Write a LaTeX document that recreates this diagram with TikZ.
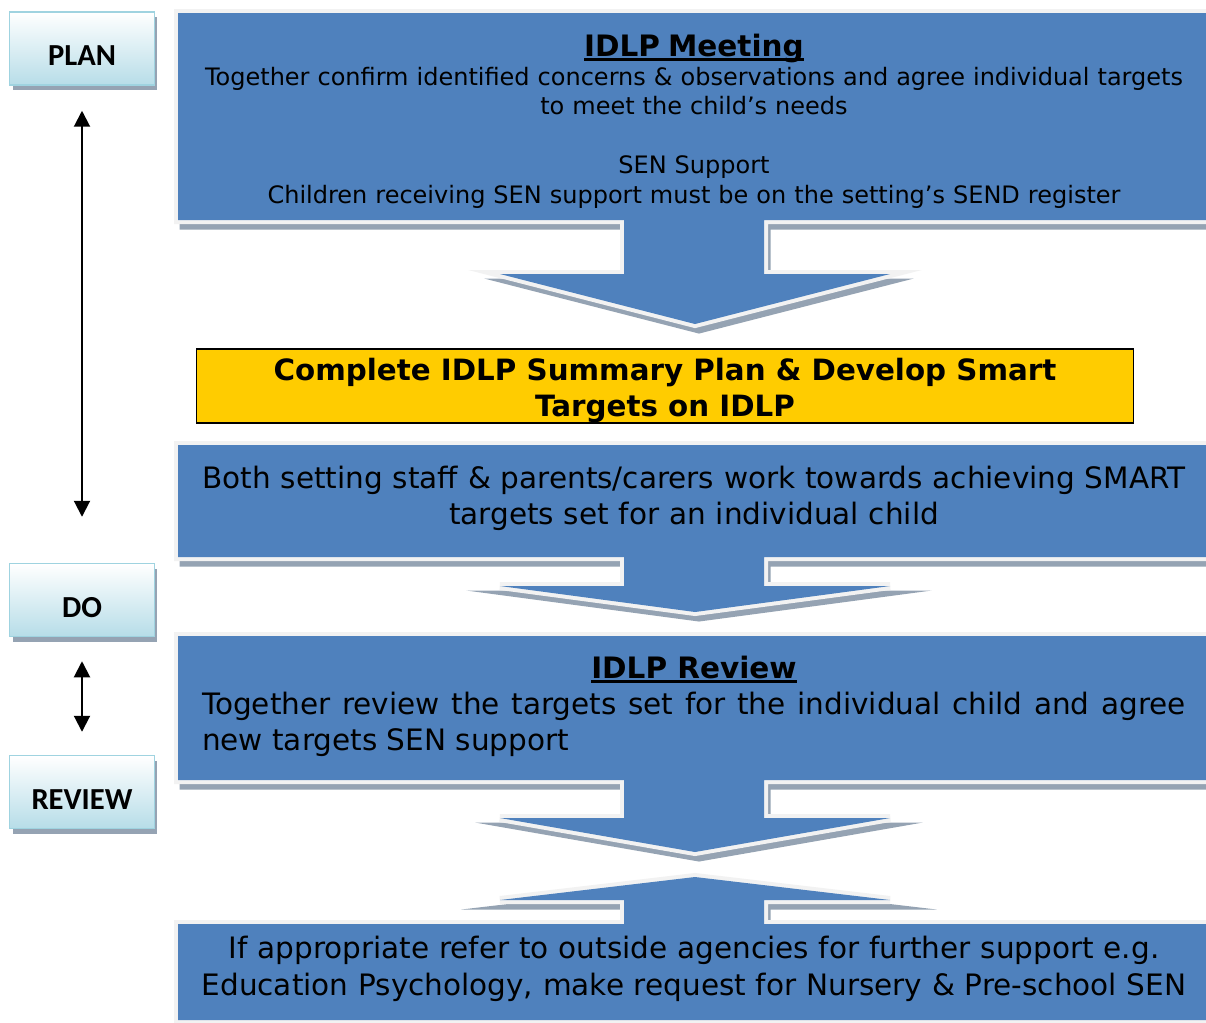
\documentclass[tikz,border=0pt]{standalone}
\usepackage{fontspec}
\setmainfont{DejaVu Sans}
\newfontfamily\stagefont{Carlito}
\usetikzlibrary{arrows.meta,shadows}

\definecolor{boxblue}{HTML}{4F81BD}
\definecolor{framegrey}{HTML}{F2F2F2}
\definecolor{shadowgrey}{HTML}{95A3B3}
\definecolor{stageline}{HTML}{9FD3E0}
\definecolor{stageblue}{HTML}{B7DDE8}
\definecolor{smartyellow}{HTML}{FFCC00}

% heading with a heavier underline than \underline gives
\newsavebox{\headbox}
\newcommand{\ulhead}[1]{\sbox\headbox{#1}\rlap{\rule[-2.6pt]{\wd\headbox}{1.6pt}}\usebox\headbox}

\tikzset{
  block/.style={preaction={draw=shadowgrey, fill=shadowgrey, line width=0.1cm, miter limit=25,
      transform canvas={shift={(4,7)}}},
    draw=framegrey, line width=0.16cm, postaction={fill=boxblue}},
  stage/.style={draw=stageline, line width=0.03cm, top color=white, bottom color=stageblue,
    minimum width=2.9cm, minimum height=1.46cm, inner sep=0pt, text height=0.69cm, text depth=0pt,
    font=\stagefont\bfseries\fontsize{17.4pt}{20pt}\selectfont,
    drop shadow={shadow xshift=0.06cm, shadow yshift=-0.1cm, fill=shadowgrey, opacity=1}},
  blocktext/.style={anchor=base, inner sep=0pt, text width=20.4cm, align=center,
    font=\fontsize{16.79pt}{20.49pt}\selectfont},
  cycle arrow/.style={{Triangle[length=0.32cm,width=0.32cm]}-{Triangle[length=0.32cm,width=0.32cm]},
    line width=0.04cm}
}

\begin{document}
\begin{tikzpicture}[x=0.02cm,y=-0.02cm]
\useasboundingbox (0,0) rectangle (1206,1022);
\fill[white] (0,0) rectangle (1206,1022);
\clip (0,0) rectangle (1206,1022);

%==== blue blocks with their block arrows
\path[block] (178,13) -- (1230,13) -- (1230,220) -- (764,220) -- (764,274) -- (890,274)
  -- (695,324) -- (500,274) -- (624,274) -- (624,220) -- (178,220) -- cycle;
\path[block] (178,445) -- (1230,445) -- (1230,557) -- (764,557) -- (764,586) -- (890,586)
  -- (695,612) -- (500,586) -- (624,586) -- (624,557) -- (178,557) -- cycle;
\path[block] (178,636) -- (1230,636) -- (1230,780) -- (764,780) -- (764,818) -- (890,818)
  -- (695,852) -- (500,818) -- (624,818) -- (624,780) -- (178,780) -- cycle;
\path[block] (178,1020) -- (178,924) -- (624,924) -- (624,900) -- (500,900) -- (695,877)
  -- (890,900) -- (764,900) -- (764,924) -- (1230,924) -- (1230,1020) -- cycle;

%==== texts
\node[blocktext, font=\fontsize{13.66pt}{16.73pt}\selectfont] (meeting) at (694,56) {%
  {\fontsize{16.79pt}{16.73pt}\selectfont\bfseries\ulhead{IDLP Meeting}}\\
  Together confirm identified concerns \& observations and agree individual targets\\
  to meet the child’s needs\\[0.59cm]
  SEN Support\\
  Children receiving SEN support must be on the setting’s SEND register};

\node[draw=black, line width=0.03cm, fill=smartyellow, minimum width=18.74cm, minimum height=1.48cm,
  inner ysep=0pt, align=center, font=\bfseries\fontsize{16.7pt}{20.49pt}\selectfont] (smart) at (665,386)
  {\rule{0pt}{0.62cm}Complete IDLP Summary Plan \& Develop Smart\\Targets on IDLP};

\node[blocktext] (work) at (694,488) {Both setting staff \& parents/carers work towards achieving SMART\\
  targets set for an individual child};

\node[blocktext, text width=19.68cm, align=justify] (review) at (694,678) {%
  \hspace*{\fill}{\bfseries\ulhead{IDLP Review}}\hspace*{\fill}\\
  Together review the targets set for the individual child and agree\linebreak
  new targets SEN support};

\node[blocktext, font=\fontsize{16.79pt}{21.06pt}\selectfont] (refer) at (694,958) {%
  If appropriate refer to outside agencies for further support e.g.\\
  Education Psychology, make request for Nursery \& Pre-school SEN};

%==== stages
\node[stage] (plan) at (82,48.5) {PLAN};
\node[stage] (do) at (82,600) {DO};
\node[stage] (rev) at (82,792) {REVIEW};

\draw[cycle arrow, shorten <=0.5cm, shorten >=0.92cm] (plan) -- (do);
\draw[cycle arrow, shorten <=0.48cm, shorten >=0.46cm] (do) -- (rev);
\end{tikzpicture}
\end{document}
